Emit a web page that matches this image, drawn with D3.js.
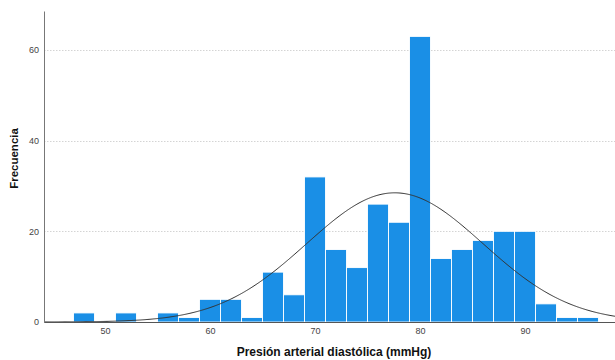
<!DOCTYPE html>
<html>
<head>
<meta charset="utf-8">
<script src="https://cdn.jsdelivr.net/npm/d3@7"></script>
<style>
  html, body { margin: 0; padding: 0; background: #fff; }
  svg { display: block; font-family: "Liberation Sans", Arial, sans-serif; }
</style>
</head>
<body>
<svg id="chart" width="615" height="360"></svg>
<script>
// Histogram bins (lower edge, width 2 mmHg) and their frequencies
const binStarts = [47, 51, 55, 57, 59, 61, 63, 65, 67, 69, 71, 73, 75, 77, 79, 81, 83, 85, 87, 89, 91, 93, 95];
const binCounts = [2, 2, 2, 1, 5, 5, 1, 11, 6, 32, 16, 12, 26, 22, 63, 14, 16, 18, 20, 20, 4, 1, 1];
const binWidth = 2;

// Axis ticks
const xTicks = [50, 60, 70, 80, 90];
const yTicks = [0, 20, 40, 60];

// Fitted normal curve parameters
const normalMean = 77.6;
const normalSd = 8.4;
const sampleN = 300;

const svg = d3.select("#chart");
const plotLeft = 44, plotRight = 615, plotBottom = 322, plotTop = 11;

const x = d3.scaleLinear().domain([44.19, 98.57]).range([plotLeft, plotRight]);
const y = d3.scaleLinear().domain([0, 68.6]).range([plotBottom, plotTop]);

// Horizontal dotted grid lines
svg.append("g")
  .selectAll("line")
  .data(yTicks.filter(d => d > 0))
  .join("line")
  .attr("x1", plotLeft).attr("x2", plotRight)
  .attr("y1", d => Math.round(y(d)) + 0.5).attr("y2", d => Math.round(y(d)) + 0.5)
  .attr("stroke", "#d4d4d4")
  .attr("stroke-width", 1)
  .attr("stroke-dasharray", "1.5,1.5");

// Bars
const bins = binStarts.map((s, i) => ({ x0: s, x1: s + binWidth, n: binCounts[i] }));
svg.append("g")
  .selectAll("rect")
  .data(bins)
  .join("rect")
  .attr("x", d => x(d.x0))
  .attr("width", d => x(d.x1) - x(d.x0))
  .attr("y", d => y(d.n))
  .attr("height", d => y(0) - y(d.n))
  .attr("fill", "#1a8fe6")
  .attr("stroke", "#ffffff")
  .attr("stroke-width", 0.9);

// Normal curve scaled to frequencies
const curveX = d3.range(44.19, 98.6, 0.1);
const pdf = v => sampleN * binWidth / (normalSd * Math.sqrt(2 * Math.PI)) *
  Math.exp(-0.5 * Math.pow((v - normalMean) / normalSd, 2));
svg.append("path")
  .datum(curveX)
  .attr("d", d3.line().x(v => x(v)).y(v => y(pdf(v))).curve(d3.curveBasis))
  .attr("fill", "none")
  .attr("stroke", "#333333")
  .attr("stroke-width", 1);

// Axes
const xAxis = svg.append("g")
  .attr("transform", `translate(0,${plotBottom})`)
  .call(d3.axisBottom(x).tickValues(xTicks).tickSize(0).tickPadding(6).tickFormat(d3.format("d")));
xAxis.select(".domain").attr("stroke", "#555").attr("stroke-width", 1.2);
xAxis.selectAll("text").attr("fill", "#444").style("font-size", "9px");

const yAxis = svg.append("g")
  .attr("transform", `translate(${plotLeft},0)`)
  .call(d3.axisLeft(y).tickValues(yTicks).tickSize(0).tickPadding(5).tickFormat(d3.format("d")));
yAxis.select(".domain").attr("stroke", "#777").attr("stroke-width", 1);
yAxis.selectAll("text").attr("fill", "#444").style("font-size", "9px");

// Axis titles
svg.append("text")
  .attr("x", 334).attr("y", 355.5)
  .attr("text-anchor", "middle")
  .style("font-size", "12px").style("font-weight", "bold")
  .attr("fill", "#111")
  .text("Presión arterial diastólica (mmHg)");

svg.append("text")
  .attr("transform", "translate(18,158.5) rotate(-90)")
  .attr("text-anchor", "middle")
  .style("font-size", "11.5px").style("font-weight", "bold")
  .attr("fill", "#111")
  .text("Frecuencia");
</script>
</body>
</html>
